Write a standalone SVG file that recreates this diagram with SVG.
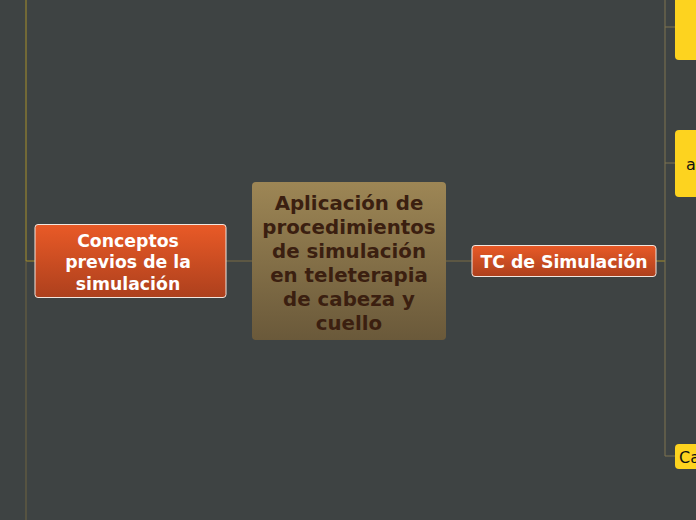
<svg xmlns="http://www.w3.org/2000/svg" width="696" height="520" viewBox="0 0 696 520">
<defs>
<linearGradient id="gc" x1="0" y1="0" x2="0" y2="1"><stop offset="0" stop-color="#9d8655"/><stop offset="1" stop-color="#6a593a"/></linearGradient>
<linearGradient id="go" x1="0" y1="0" x2="0" y2="1"><stop offset="0" stop-color="#e95a27"/><stop offset="1" stop-color="#ad401d"/></linearGradient>
<style>
.c{fill:none;stroke-width:1}
.t{font-family:"DejaVu Sans",sans-serif;font-weight:bold;text-anchor:middle}
.w{fill:#ffffff;font-size:17.3px}
.y{fill:#fdd31f}
.yt{font-family:"DejaVu Sans",sans-serif;font-size:16px;fill:#111111}
</style>
</defs>
<rect width="696" height="520" fill="#3e4343"/>
<g id="connectors">
<path class="c" stroke="#a58f2a" d="M26 0V261H35"/>
<path class="c" stroke="#6e6440" d="M26 261V520"/>
<path class="c" stroke="#7a6c44" d="M226 261H252M446 261H472"/>
<path class="c" stroke="#a58f2a" d="M656 261H665"/>
<path class="c" stroke="#7f7450" d="M665 0V456H676M665 27H676M665 163H676"/>
</g>
<g id="central">
<rect x="252" y="182" width="194" height="158" rx="4" fill="url(#gc)"/>
<text class="t" fill="#3b1f10" font-size="19.8" x="349"><tspan x="349" y="210">Aplicación de</tspan><tspan x="349" y="234">procedimientos</tspan><tspan x="349" y="258">de simulación</tspan><tspan x="349" y="282">en teleterapia</tspan><tspan x="349" y="306">de cabeza y</tspan><tspan x="349" y="330">cuello</tspan></text>
</g>
<g id="conceptos">
<rect x="35" y="224.5" width="191" height="73" rx="3" fill="url(#go)" stroke="#f2e6df" stroke-width="1"/>
<text class="t w"><tspan x="128" y="247">Conceptos</tspan><tspan x="128" y="268">previos de la</tspan><tspan x="128" y="290">simulación</tspan></text>
</g>
<g id="tc">
<rect x="472" y="245.5" width="184" height="31" rx="3" fill="url(#go)" stroke="#f2e6df" stroke-width="1"/>
<text class="t w" x="564" y="268">TC de Simulación</text>
</g>
<g id="n1"><rect class="y" x="675" y="-10" width="40" height="70" rx="4"/></g>
<g id="n2"><rect class="y" x="675" y="130" width="40" height="67" rx="4"/><text class="yt" x="686" y="170">a</text></g>
<g id="n3"><rect class="y" x="675" y="444" width="40" height="25" rx="4"/><text class="yt" x="679" y="463">Ca</text></g>
</svg>
